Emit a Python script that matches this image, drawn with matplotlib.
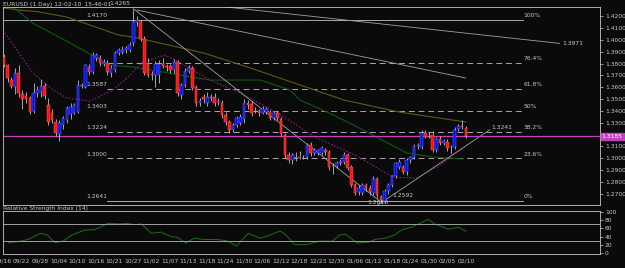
import numpy as np
import matplotlib
matplotlib.use("Agg")
import matplotlib.pyplot as plt

# EURUSD daily candles, 09/16 .. 02/10
opens = [1.3856, 1.3788, 1.3661, 1.3602, 1.3720, 1.3540, 1.3526, 1.3509, 1.3399, 1.3551,
         1.3560, 1.3610, 1.3450, 1.3380, 1.3306, 1.3204, 1.3281, 1.3323, 1.3374, 1.3382,
         1.3390, 1.3610, 1.3602, 1.3771, 1.3729, 1.3847, 1.3847, 1.3797, 1.3805, 1.3720,
         1.3746, 1.3890, 1.3900, 1.3915, 1.3915, 1.3974, 1.4150, 1.4150, 1.4010, 1.3805,
         1.3712, 1.3704, 1.3704, 1.3797, 1.3780, 1.3780, 1.3746, 1.3813, 1.3534, 1.3619,
         1.3737, 1.3763, 1.3602, 1.3467, 1.3517, 1.3467, 1.3517, 1.3517, 1.3475, 1.3467,
         1.3365, 1.3306, 1.3238, 1.3281, 1.3297, 1.3331, 1.3467, 1.3458, 1.3395, 1.3399,
         1.3382, 1.3390, 1.3390, 1.3340, 1.3382, 1.3331, 1.3196, 1.3027, 1.2984, 1.3010,
         1.3001, 1.3001, 1.3010, 1.3111, 1.3044, 1.3044, 1.3044, 1.3069, 1.3052, 1.2934,
         1.2934, 1.2959, 1.2967, 1.3027, 1.2925, 1.2773, 1.2714, 1.2705, 1.2773, 1.2748,
         1.2705, 1.2824, 1.2671, 1.2638, 1.2722, 1.2773, 1.2849, 1.2925, 1.2925, 1.2883,
         1.2984, 1.3010, 1.3103, 1.3094, 1.3213, 1.3196, 1.3196, 1.3069, 1.3162, 1.3128,
         1.3137, 1.3094, 1.3094, 1.3247, 1.3272, 1.3255]
highs = [1.3880, 1.3800, 1.3690, 1.3760, 1.3790, 1.3580, 1.3560, 1.3530, 1.3635, 1.3610,
         1.3670, 1.3640, 1.3510, 1.3420, 1.3330, 1.3320, 1.3360, 1.3440, 1.3470, 1.3470,
         1.3660, 1.3640, 1.3800, 1.3800, 1.3900, 1.3890, 1.3870, 1.3840, 1.3830, 1.3790,
         1.3910, 1.3930, 1.3950, 1.3950, 1.3980, 1.4265, 1.4200, 1.4170, 1.4030, 1.3850,
         1.3740, 1.3820, 1.3830, 1.3850, 1.3800, 1.3800, 1.3840, 1.3830, 1.3640, 1.3760,
         1.3790, 1.3780, 1.3620, 1.3510, 1.3540, 1.3560, 1.3540, 1.3550, 1.3510, 1.3490,
         1.3390, 1.3320, 1.3300, 1.3360, 1.3370, 1.3500, 1.3490, 1.3480, 1.3430, 1.3420,
         1.3440, 1.3430, 1.3410, 1.3400, 1.3400, 1.3350, 1.3210, 1.3050, 1.3040, 1.3050,
         1.3060, 1.3030, 1.3130, 1.3140, 1.3090, 1.3080, 1.3100, 1.3090, 1.3070, 1.2960,
         1.2980, 1.2990, 1.3050, 1.3040, 1.2940, 1.2790, 1.2770, 1.2790, 1.2790, 1.2770,
         1.2850, 1.2840, 1.2690, 1.2740, 1.2790, 1.2860, 1.2970, 1.2990, 1.2940, 1.3000,
         1.3020, 1.3120, 1.3130, 1.3240, 1.3240, 1.3220, 1.3230, 1.3180, 1.3190, 1.3160,
         1.3160, 1.3110, 1.3260, 1.3290, 1.3320, 1.3270]
lows = [1.3770, 1.3645, 1.3590, 1.3545, 1.3520, 1.3420, 1.3470, 1.3370, 1.3380, 1.3520,
        1.3520, 1.3500, 1.3280, 1.3300, 1.3190, 1.3145, 1.3250, 1.3300, 1.3330, 1.3370,
        1.3380, 1.3590, 1.3590, 1.3700, 1.3710, 1.3820, 1.3780, 1.3780, 1.3700, 1.3690,
        1.3730, 1.3870, 1.3880, 1.3890, 1.3900, 1.3950, 1.4120, 1.3990, 1.3700, 1.3690,
        1.3660, 1.3600, 1.3640, 1.3760, 1.3740, 1.3720, 1.3720, 1.3530, 1.3500, 1.3600,
        1.3720, 1.3580, 1.3440, 1.3440, 1.3470, 1.3440, 1.3480, 1.3440, 1.3450, 1.3340,
        1.3280, 1.3210, 1.3220, 1.3260, 1.3280, 1.3300, 1.3420, 1.3360, 1.3380, 1.3360,
        1.3370, 1.3370, 1.3320, 1.3320, 1.3320, 1.3190, 1.3000, 1.2960, 1.2950, 1.2980,
        1.2990, 1.2990, 1.2990, 1.3020, 1.3030, 1.3030, 1.3030, 1.3030, 1.2900, 1.2870,
        1.2920, 1.2940, 1.2950, 1.2900, 1.2760, 1.2690, 1.2690, 1.2690, 1.2720, 1.2690,
        1.2690, 1.2660, 1.2624, 1.2624, 1.2700, 1.2760, 1.2830, 1.2910, 1.2870, 1.2860,
        1.2960, 1.2990, 1.3080, 1.3080, 1.3170, 1.3170, 1.3050, 1.3050, 1.3110, 1.3110,
        1.3060, 1.3040, 1.3080, 1.3230, 1.3250, 1.3170]
closes = [1.3788, 1.3678, 1.3610, 1.3720, 1.3551, 1.3500, 1.3500, 1.3390, 1.3551, 1.3577,
          1.3610, 1.3526, 1.3306, 1.3323, 1.3213, 1.3297, 1.3340, 1.3424, 1.3433, 1.3450,
          1.3619, 1.3619, 1.3788, 1.3729, 1.3873, 1.3873, 1.3805, 1.3813, 1.3729, 1.3763,
          1.3890, 1.3915, 1.3915, 1.3932, 1.3957, 1.4150, 1.4169, 1.4010, 1.3720, 1.3704,
          1.3704, 1.3797, 1.3797, 1.3780, 1.3771, 1.3746, 1.3813, 1.3551, 1.3619, 1.3737,
          1.3763, 1.3594, 1.3467, 1.3483, 1.3500, 1.3517, 1.3509, 1.3467, 1.3483, 1.3365,
          1.3306, 1.3238, 1.3281, 1.3340, 1.3348, 1.3467, 1.3450, 1.3382, 1.3403, 1.3382,
          1.3416, 1.3416, 1.3340, 1.3382, 1.3340, 1.3204, 1.3027, 1.2984, 1.3027, 1.3001,
          1.3010, 1.3005, 1.3111, 1.3044, 1.3069, 1.3069, 1.3086, 1.3052, 1.2925, 1.2930,
          1.2959, 1.2967, 1.3027, 1.2917, 1.2773, 1.2705, 1.2748, 1.2773, 1.2748, 1.2714,
          1.2824, 1.2688, 1.2646, 1.2722, 1.2773, 1.2849, 1.2959, 1.2967, 1.2883, 1.2984,
          1.3010, 1.3103, 1.3110, 1.3213, 1.3179, 1.3196, 1.3069, 1.3162, 1.3128, 1.3145,
          1.3086, 1.3098, 1.3238, 1.3272, 1.3264, 1.3185]

date_labels = ["09/16", "09/22", "09/28", "10/04", "10/10", "10/16", "10/21", "10/27",
               "11/02", "11/07", "11/13", "11/18", "11/24", "11/30", "12/06", "12/12",
               "12/18", "12/23", "12/30", "01/06", "01/12", "01/18", "01/24", "01/30",
               "02/05", "02/10"]

# fibonacci retracement
fib_pct = ["100%", "76.4%", "61.8%", "50%", "38.2%", "23.6%", "0%"]
fib_price = [1.4170, 1.3809, 1.3587, 1.3403, 1.3224, 1.3000, 1.2641]
fib_left = ["1.4170", "", "1.3587", "1.3403", "1.3224", "1.3000", "1.2641"]

# moving averages (bar index, price)
ma_slow_idx = [0, 4, 9, 17, 31, 35, 54, 66, 92, 107, 125]
ma_slow_val = [1.4270, 1.4253, 1.4240, 1.4194, 1.4042, 1.4025, 1.3890, 1.3770, 1.3492, 1.3390, 1.3306]
ma_mid_idx = [1.6, 3.5, 7.8, 17.9, 28.7, 34.9, 55.7, 69.3, 77.4, 80.1, 87.4, 93.6, 109, 116, 124.2]
ma_mid_val = [1.4296, 1.4253, 1.4143, 1.3974, 1.3788, 1.3771, 1.3661, 1.3661, 1.3577, 1.3492,
              1.3390, 1.3297, 1.3044, 1.3010, 1.2993]
ma_fast_idx = [-0.3, 7.8, 13.3, 17, 23.3, 29.5, 32.7, 37.6, 43.6, 50.3, 55.7, 63.3, 74.1, 84.1,
               95, 105.2, 111.7, 118, 125.3]
ma_fast_val = [1.4084, 1.3720, 1.3577, 1.3509, 1.3483, 1.3577, 1.3661, 1.3813, 1.3873, 1.3763,
               1.3661, 1.3560, 1.3382, 1.3179, 1.3027, 1.2841, 1.2832, 1.2942, 1.3111]

# RSI(14)
rsi_idx = [-0.3, 3, 5.1, 8.4, 10.3, 12.4, 14.6, 17, 20.6, 23.3, 26.8, 30, 32.2, 34.1, 36,
           38.7, 41.4, 44.1, 45.7, 48.2, 50.3, 53, 56.5, 59.3, 62, 65.2, 68.5, 71.2, 73.9,
           75.5, 77.9, 80.9, 84.7, 88.2, 90.1, 91.7, 95, 98.2, 99.8, 102.5, 105.2, 107.1,
           109.8, 111.7, 114.4, 116.1, 119.9, 122.6, 124.7]
rsi_val = [25, 29, 33, 48, 44, 25, 29, 44, 56, 57, 72, 71, 72, 69, 71, 48, 51, 40, 39, 24,
           36, 33, 33, 30, 17, 48, 36, 44, 54, 44, 21, 20, 29, 29, 44, 46, 24, 27, 33, 36,
           44, 56, 63, 71, 82, 71, 58, 63, 53]

# drawn lines: (bar index pair, price pair)
trend_lines = [([35, 102.5], [1.4265, 1.2618]),
               ([36, 125], [1.4253, 1.3678]),
               ([40, 150.4], [1.4348, 1.3971]),
               ([100.6, 131.5], [1.2592, 1.3241])]
last_price = 1.3185

bg = "#0a0a0a"
fg = "#c8c8c8"
fs = 4.3

fig = plt.figure(figsize=(6.25, 2.68), dpi=100, facecolor=bg)
ax = fig.add_axes([3 / 625, 1 - 205 / 268, 597 / 625, 198 / 268], facecolor=bg)
ax2 = fig.add_axes([3 / 625, 1 - 254 / 268, 597 / 625, 43 / 268], facecolor=bg)

n = len(closes)
x = np.arange(n)
o = np.array(opens); c = np.array(closes)
h = np.array(highs); l = np.array(lows)
up = c >= o

ax.vlines(x, l, h, color="#c0c0c0", lw=0.6, zorder=3)
body_lo = np.minimum(o, c)
body_h = np.maximum(np.abs(c - o), 0.0002)
ax.bar(x[up], body_h[up], bottom=body_lo[up], width=0.7, color="#0010ff",
       edgecolor="#8080ff", lw=0.3, zorder=4)
ax.bar(x[~up], body_h[~up], bottom=body_lo[~up], width=0.7, color="#ff1010",
       edgecolor="#ff7070", lw=0.3, zorder=4)

# moving averages
ax.plot(ma_slow_idx, ma_slow_val, color="#5c5c12", lw=0.8, zorder=2)
ax.plot(ma_mid_idx, ma_mid_val, color="#0d5a0d", lw=0.8, zorder=2)
ax.plot(ma_fast_idx, ma_fast_val, color="#8a1a8a", lw=0.8, ls=(0, (1.5, 1.5)), zorder=2)

# fibo levels
for pct, pr, lab in zip(fib_pct, fib_price, fib_left):
    solid = pct in ("100%", "0%")
    x0 = -1 if pct == "100%" else 28
    ax.plot([x0, 140.4], [pr, pr], color="#a8a8a8", lw=0.7,
            ls="-" if solid else (0, (6, 4)), zorder=1)
    ax.text(140.6, pr + 0.0012, pct, color=fg, fontsize=fs, ha="left", va="bottom")
    if lab:
        ax.text(28, pr + 0.0012, lab, color=fg, fontsize=fs, ha="right", va="bottom")

for xs, ys in trend_lines:
    ax.plot(xs, ys, color="#a0a0a0", lw=0.6, zorder=2)

ax.text(31.4, 1.4312, "1.4265", color=fg, fontsize=fs, ha="center", va="center", clip_on=False)
ax.text(151, 1.3974, "1.3971", color=fg, fontsize=fs, ha="left", va="center")
ax.text(131.8, 1.3241, "1.3241", color=fg, fontsize=fs, ha="left", va="bottom")
ax.text(105, 1.2688, "1.2592", color=fg, fontsize=fs, ha="left", va="center")
ax.text(98.2, 1.2621, "1.2618", color=fg, fontsize=fs, ha="left", va="center")

# current price
ax.axhline(last_price, color="#c040c0", lw=0.9, zorder=2)
ax.text(1.003, last_price, "%.4f" % last_price, transform=ax.get_yaxis_transform(),
        color="white", fontsize=fs, ha="left", va="center", clip_on=False, zorder=10,
        bbox=dict(boxstyle="square,pad=0.2", fc="#c040c0", ec="#c040c0"))

ax.set_xlim(-0.27, 161.3)
ax.set_ylim(1.2604, 1.4279)
ax.yaxis.tick_right()
yt = np.arange(1.27, 1.4201, 0.01)
ax.set_yticks(yt)
# the 1.3200 label sits under the current price box
ax.set_yticklabels(["" if abs(v - 1.32) < 1e-6 else "%.4f" % v for v in yt])
ax.tick_params(axis="y", colors=fg, labelsize=fs, length=2, width=0.5, pad=1.5)
ax.set_xticks([])
for s in ax.spines.values():
    s.set_color(fg)
    s.set_linewidth(0.6)

# RSI panel
ax2.plot(rsi_idx, rsi_val, color="#1a6e1a", lw=0.7)
ax2.axhline(70, color="#a0a0a0", lw=0.7)
ax2.axhline(30, color="#a0a0a0", lw=0.7)
ax2.set_xlim(-0.27, 161.3)
ax2.set_ylim(-2.4, 102.4)
ax2.yaxis.tick_right()
ax2.set_yticks([0, 20, 40, 60, 80, 100])
ax2.tick_params(axis="y", colors=fg, labelsize=fs, length=2, width=0.5, pad=1.5)
ax2.set_xticks(np.linspace(-1.8, 124.7, len(date_labels)))
ax2.set_xticklabels(date_labels)
ax2.tick_params(axis="x", colors=fg, labelsize=fs, length=0, pad=3)
for s in ax2.spines.values():
    s.set_color(fg)
    s.set_linewidth(0.6)

fig.text(3 / 625, 1 - 4.5 / 268, "EURUSD (1 Day) 12-02-10_15-46-01", color=fg,
         fontsize=fs, ha="left", va="center")
fig.text(3 / 625, 1 - 208.5 / 268, "Relative Strength Index (14)", color=fg,
         fontsize=fs, ha="left", va="center")

fig.savefig("out.png", dpi=100, facecolor=bg)
